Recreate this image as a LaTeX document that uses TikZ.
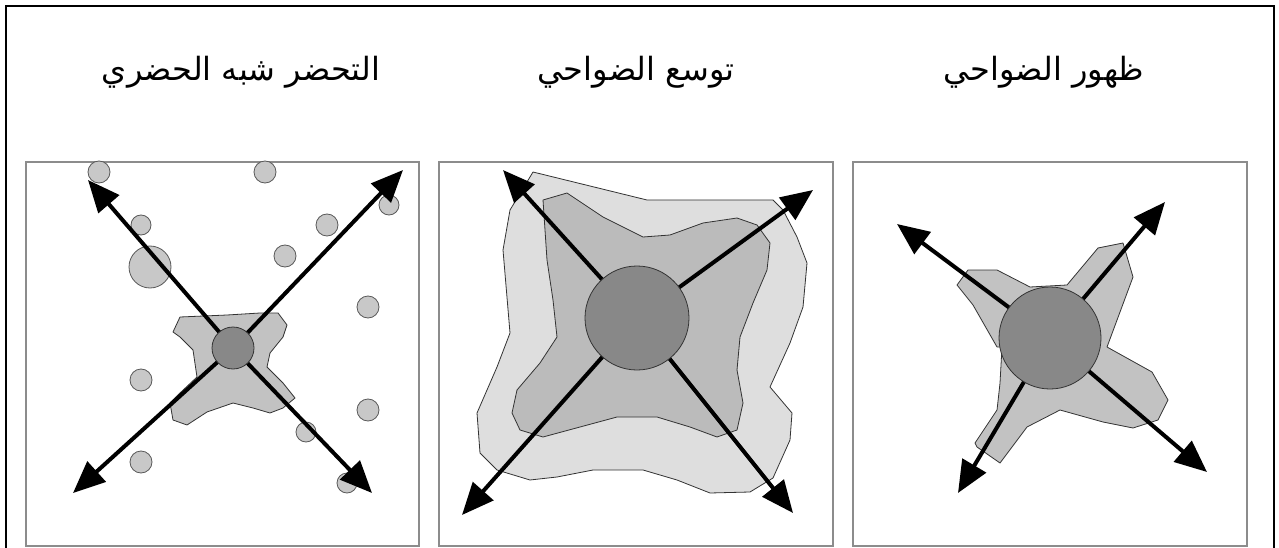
\documentclass[tikz,border=0pt]{standalone}
\usepackage{fontspec}
\newfontfamily\arabicfont[Script=Arabic]{DejaVu Sans}
\TeXXeTstate=1
\usetikzlibrary{arrows.meta}
\definecolor{blobgray}{HTML}{C2C2C2}
\definecolor{outergray}{HTML}{DEDEDE}
\definecolor{innergray}{HTML}{BBBBBB}
\definecolor{coregray}{HTML}{888888}
\definecolor{dotgray}{HTML}{C8C8C8}
\definecolor{framegray}{HTML}{8C8C8C}
\begin{document}
\begin{tikzpicture}[x=1pt,y=-1pt,
  panel/.style={draw=framegray,line width=1.5pt},
  blob/.style={fill=blobgray,draw=black!80,line width=0.8pt,line join=round},
  outerblob/.style={fill=outergray,draw=black!80,line width=0.8pt,line join=round},
  innerblob/.style={fill=innergray,draw=black!80,line width=0.8pt,line join=round},
  core/.style={circle,fill=coregray,draw=black!80,line width=0.8pt,inner sep=0pt,minimum size=#1},
  dot/.style={fill=dotgray,draw=black!65,line width=0.8pt},
  arr/.style={line width=4pt,-{Triangle[length=32pt,width=27pt]}},
  title/.style={font=\arabicfont\fontsize{32}{38}\selectfont,inner sep=0pt,anchor=base}]
\useasboundingbox (0,0) rectangle (1279,548);
% outer frame
\draw[line width=2.5pt] (6,548) -- (6,6) -- (1274,6) -- (1274,548);
% titles
\node[title] (t1) at (241,81) {\beginR التحضر شبه الحضري\endR};
\node[title] (t2) at (636,81) {\beginR توسع الضواحي\endR};
\node[title] (t3) at (1044,81) {\beginR ظهور الضواحي\endR};
% panels
\draw[panel] (26,162) rectangle (419,546);
\draw[panel] (439,162) rectangle (833,546);
\draw[panel] (853,162) rectangle (1247,546);

% ---------- panel 1 ----------
\draw[blob] (180,317) -- (227,315) -- (260,313) -- (278,313) -- (287,325) -- (283,337)
  -- (270,353) -- (267,367) -- (283,383) -- (295,398) -- (283,408) -- (270,413)
  -- (253,408) -- (233,403) -- (207,412) -- (187,425) -- (173,420) -- (170,403)
  -- (180,393) -- (197,377) -- (193,350) -- (180,337) -- (173,332) -- cycle;
\foreach \p/\r in {{(99,172)}/11,{(265,172)}/11,{(389,205)}/10,{(141,225)}/10,
  {(327,225)}/11,{(150,267)}/21,{(285,256)}/11,{(368,307)}/11,{(141,380)}/11,
  {(368,410)}/11,{(306,432)}/10,{(141,462)}/11,{(347,483)}/10}
  \draw[dot] \p circle[radius=\r];
\coordinate (c1) at (233,348);
\coordinate (a1nw) at (88,180);
\coordinate (a1ne) at (403,170);
\coordinate (a1sw) at (73,493);
\coordinate (a1se) at (372,493);
\draw[arr] (c1) -- (a1nw);
\draw[arr] (c1) -- (a1ne);
\draw[arr] (c1) -- (a1sw);
\draw[arr] (c1) -- (a1se);
\node[core=42pt] (k1) at (c1) {};

% ---------- panel 2 ----------
\draw[outerblob] (533,172) -- (647,200) -- (773,200) -- (783,210) -- (797,237)
  -- (807,263) -- (803,307) -- (790,343) -- (770,387) -- (792,413) -- (790,440)
  -- (773,478) -- (750,492) -- (710,493) -- (677,480) -- (643,470) -- (593,470)
  -- (557,477) -- (530,480) -- (497,470) -- (480,453) -- (477,413) -- (497,367)
  -- (510,333) -- (503,250) -- (510,210) -- cycle;
\draw[innerblob] (543,200) -- (567,193) -- (603,217) -- (643,237) -- (670,235)
  -- (703,223) -- (737,218) -- (757,225) -- (770,243) -- (767,270) -- (753,303)
  -- (740,337) -- (737,370) -- (743,403) -- (737,430) -- (717,437) -- (690,427)
  -- (657,417) -- (617,417) -- (580,427) -- (543,437) -- (520,430) -- (512,413)
  -- (517,390) -- (540,363) -- (557,337) -- (553,300) -- (547,260) -- cycle;
\coordinate (c2) at (637,318);
\coordinate (a2nw) at (503,170);
\coordinate (a2ne) at (813,190);
\coordinate (a2sw) at (462,515);
\coordinate (a2se) at (793,513);
\draw[arr] (c2) -- (a2nw);
\draw[arr] (c2) -- (a2ne);
\draw[arr] (c2) -- (a2sw);
\draw[arr] (c2) -- (a2se);
\node[core=104pt] (k2) at (c2) {};

% ---------- panel 3 ----------
\draw[blob] (968,270) -- (997,270) -- (1030,287) -- (1067,285) -- (1098,248)
  -- (1123,243) -- (1133,277) -- (1107,347) -- (1152,372) -- (1168,400)
  -- (1158,420) -- (1133,428) -- (1103,422) -- (1060,410) -- (1027,427)
  -- (1000,463) -- (977,447) -- (975,443) -- (997,410) -- (1000,383)
  -- (1002,347) -- (997,347) -- (973,305) -- (957,285) -- cycle;
\coordinate (c3) at (1050,338);
\coordinate (a3nw) at (897,224);
\coordinate (a3ne) at (1165,202);
\coordinate (a3sw) at (958,493);
\coordinate (a3se) at (1207,472);
\draw[arr] (c3) -- (a3nw);
\draw[arr] (c3) -- (a3ne);
\draw[arr] (c3) -- (a3sw);
\draw[arr] (c3) -- (a3se);
\node[core=102pt] (k3) at (c3) {};
\end{tikzpicture}
\end{document}
